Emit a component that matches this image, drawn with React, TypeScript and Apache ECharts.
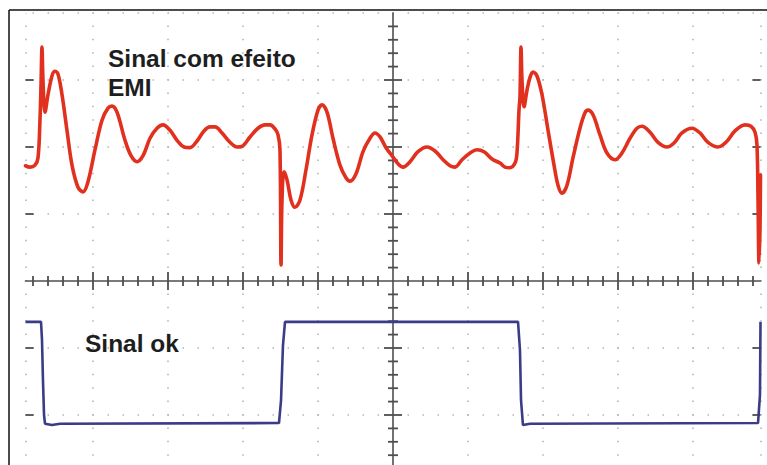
import React, { useEffect, useRef } from "react";
import * as echarts from "echarts";

// Time in screen divisions (0 = centre of the graticule), level in divisions
const redTime = [
  -4.9, -4.84, -4.773, -4.733, -4.707, -4.693, -4.68, -4.667, -4.64, -4.6,
  -4.547, -4.507, -4.467, -4.413, -4.347, -4.28, -4.2, -4.133, -4.067, -3.973,
  -3.88, -3.8, -3.747, -3.68, -3.573, -3.493, -3.413, -3.333, -3.24, -3.147,
  -3.067, -2.973, -2.88, -2.787, -2.707, -2.613, -2.52, -2.44, -2.373, -2.28,
  -2.173, -2.08, -2.013, -1.907, -1.8, -1.707, -1.64, -1.573, -1.533, -1.507,
  -1.493, -1.48, -1.453, -1.413, -1.36, -1.307, -1.24, -1.16, -1.08, -1.0,
  -0.947, -0.88, -0.8, -0.707, -0.627, -0.573, -0.493, -0.4, -0.307, -0.24,
  -0.173, -0.093, 0, 0.067, 0.133, 0.227, 0.333, 0.453, 0.56, 0.667,
  0.76, 0.827, 0.92, 1.027, 1.12, 1.213, 1.32, 1.427, 1.493, 1.56,
  1.627, 1.653, 1.68, 1.693, 1.707, 1.72, 1.747, 1.787, 1.827, 1.867,
  1.92, 1.987, 2.067, 2.147, 2.2, 2.253, 2.32, 2.4, 2.493, 2.56,
  2.6, 2.667, 2.76, 2.853, 2.96, 3.053, 3.16, 3.253, 3.32, 3.427,
  3.533, 3.653, 3.747, 3.853, 3.987, 4.093, 4.2, 4.333, 4.44, 4.56,
  4.693, 4.773, 4.827, 4.853, 4.867, 4.88, 4.893, 4.9,
];
const redLevel = [
  1.72, 1.7, 1.73, 1.84, 2.4, 2.93, 3.49, 3.0, 2.52, 2.78,
  3.06, 3.13, 3.09, 2.78, 2.25, 1.73, 1.4, 1.33, 1.48, 1.96,
  2.4, 2.58, 2.61, 2.52, 2.1, 1.87, 1.78, 1.87, 2.13, 2.28,
  2.33, 2.25, 2.1, 2.0, 1.99, 2.09, 2.24, 2.3, 2.3, 2.21,
  2.07, 2.0, 2.01, 2.15, 2.28, 2.33, 2.33, 2.27, 2.18, 1.96,
  0.24, 1.21, 1.63, 1.51, 1.21, 1.1, 1.21, 1.66, 2.18, 2.55,
  2.63, 2.52, 2.13, 1.73, 1.54, 1.49, 1.6, 1.93, 2.13, 2.21,
  2.15, 1.99, 1.85, 1.75, 1.7, 1.78, 1.93, 2.0, 1.94, 1.81,
  1.72, 1.7, 1.81, 1.91, 1.96, 1.93, 1.82, 1.76, 1.7, 1.69,
  1.76, 1.91, 2.55, 2.75, 3.49, 3.0, 2.6, 2.85, 3.04, 3.12,
  3.06, 2.78, 2.25, 1.73, 1.43, 1.31, 1.43, 1.84, 2.28, 2.51,
  2.55, 2.48, 2.18, 1.91, 1.81, 1.91, 2.13, 2.28, 2.31, 2.22,
  2.07, 2.0, 2.06, 2.21, 2.28, 2.21, 2.07, 2.0, 2.07, 2.24,
  2.33, 2.31, 2.22, 2.03, 1.21, 0.27, 0.76, 1.58,
];
const blueTime = [
  -4.9, -4.693, -4.68, -4.667, -4.653, -4.64, -4.547, -4.44, -1.52, -1.493,
  -1.467, -1.44, 1.667, 1.693, 1.707, 1.733, 1.827, 4.867, 4.893, 4.9,
];
const blueLevel = [
  -0.61, -0.61, -0.88, -1.48, -2.0, -2.13, -2.15, -2.13, -2.12, -1.78,
  -0.96, -0.61, -0.61, -1.03, -1.78, -2.15, -2.13, -2.12, -1.7, -0.61,
];
const textRed = ["Sinal com efeito", "EMI"];
const textBlue = "Sinal ok";

const xMin = -4.9;
const xMax = 4.9;
const yMin = -2.75;
const yMax = 4;
const edgeRows = [-2, -1, 1, 2, 3];

function buildGraticule() {
  const items: number[][] = [];
  for (let k = -24; k <= 24; k++) {
    if (k === 0) continue;
    items.push([k / 5, 0, k % 5 === 0 ? 1 : 0]);
  }
  for (let k = -13; k <= 19; k++) {
    if (k === 0) continue;
    items.push([0, k / 5, k % 5 === 0 ? 3 : 2]);
  }
  edgeRows.forEach((r) => {
    items.push([xMin, r, 4]);
    items.push([xMax, r, 5]);
  });
  return items;
}

export default function App() {
  const ref = useRef<HTMLDivElement>(null);
  useEffect(() => {
    document.body.style.margin = "0";
    if (!ref.current) return;
    const chart = echarts.init(ref.current, undefined, { renderer: "svg" });
    const red = redTime.map((t, i) => [t, redLevel[i]]);
    const blue = blueTime.map((t, i) => [t, blueLevel[i]]);
    const font = 'bold 23px "Liberation Sans", Arial, sans-serif';
    const txt = (s: string, x: number, y: number) => ({
      type: "text",
      x,
      y,
      scaleX: 1.065,
      z: 100,
      style: {
        text: s,
        font,
        fill: "#1e1e1e",
        align: "left",
        verticalAlign: "middle",
        textAlign: "left",
        textVerticalAlign: "middle",
      },
    });
    chart.setOption({
      animation: false,
      backgroundColor: "#ffffff",
      grid: {
        left: 25.5,
        top: 13,
        width: 735,
        height: 452.25,
        outerBoundsMode: "none",
        containLabel: false,
      },
      xAxis: {
        type: "value",
        min: xMin,
        max: xMax,
        splitNumber: 10,
        minInterval: 1,
        maxInterval: 1,
        axisLine: { show: true, onZero: true, lineStyle: { color: "#4f4f4f", width: 1.6 } },
        axisTick: { show: false },
        axisLabel: { show: false },
        splitLine: {
          show: true,
          lineStyle: { color: "#b4b4b4", width: 1.6, type: [1.5, 11.9], dashOffset: 0.75 },
        },
      },
      yAxis: {
        type: "value",
        min: yMin,
        max: yMax,
        splitNumber: 7,
        minInterval: 1,
        maxInterval: 1,
        axisLine: { show: true, onZero: true, lineStyle: { color: "#4f4f4f", width: 1.6 } },
        axisTick: { show: false },
        axisLabel: { show: false },
        splitLine: {
          show: true,
          lineStyle: { color: "#b4b4b4", width: 1.6, type: [1.5, 13.5], dashOffset: 8.25 },
        },
      },
      series: [
        {
          type: "custom",
          silent: true,
          z: 1,
          encode: { x: 0, y: 1 },
          data: buildGraticule(),
          renderItem: (_p: any, api: any) => {
            const kind = api.value(2);
            const c = api.coord([api.value(0), api.value(1)]);
            let shape;
            if (kind === 0) shape = { x1: c[0], y1: c[1] - 5, x2: c[0], y2: c[1] + 5 };
            else if (kind === 1) shape = { x1: c[0], y1: c[1] - 9, x2: c[0], y2: c[1] + 9 };
            else if (kind === 2) shape = { x1: c[0] - 5, y1: c[1], x2: c[0] + 5, y2: c[1] };
            else if (kind === 3) shape = { x1: c[0] - 9, y1: c[1], x2: c[0] + 9, y2: c[1] };
            else if (kind === 4) shape = { x1: c[0], y1: c[1], x2: c[0] + 8, y2: c[1] };
            else shape = { x1: c[0] - 8, y1: c[1], x2: c[0], y2: c[1] };
            return {
              type: "line",
              shape,
              style: { stroke: "#4f4f4f", lineWidth: 1.8 },
            };
          },
        },
        {
          type: "line",
          name: "EMI",
          data: red,
          z: 5,
          showSymbol: false,
          smooth: 0.35,
          lineStyle: {
            color: "#e2301f",
            width: 3.6,
            cap: "round",
            join: "round",
          },
        },
        {
          type: "line",
          name: "ok",
          data: blue,
          z: 5,
          showSymbol: false,
          lineStyle: { color: "#3a3c88", width: 2.6 },
        },
      ],
      graphic: [
        { type: "line", z: 100, shape: { x1: 9, y1: 10, x2: 767, y2: 10 }, style: { stroke: "#111", lineWidth: 1.5 } },
        { type: "line", z: 100, shape: { x1: 9, y1: 10, x2: 9, y2: 465 }, style: { stroke: "#111", lineWidth: 1.5 } },
        txt(textRed[0], 108, 58.5),
        txt(textRed[1], 108, 87.5),
        txt(textBlue, 85, 343.5),
      ],
    });
    return () => chart.dispose();
  }, []);
  return <div ref={ref} style={{ width: 767, height: 465 }} />;
}
